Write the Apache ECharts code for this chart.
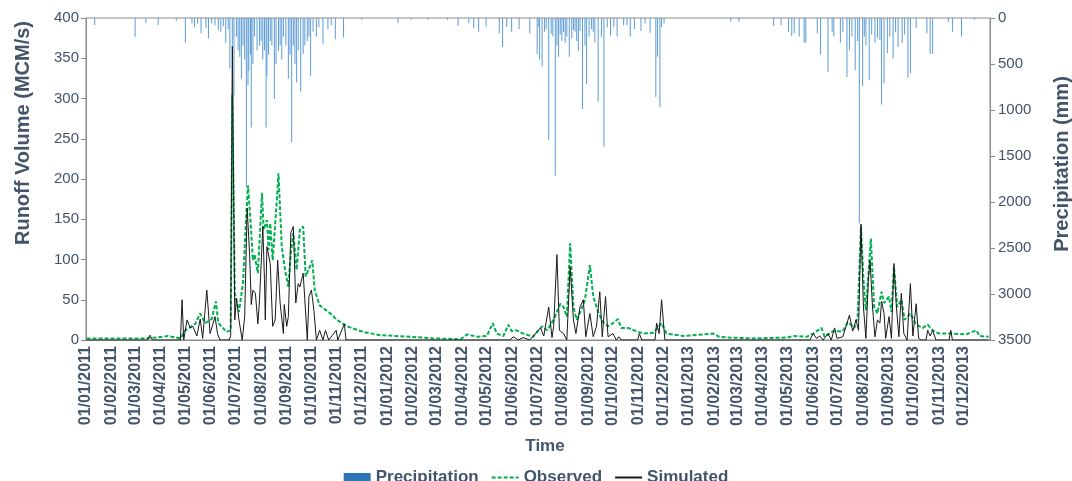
<!DOCTYPE html>
<html>
<head>
<meta charset="utf-8">
<script src="https://cdn.jsdelivr.net/npm/echarts@6/dist/echarts.min.js"></script>
<style>
html,body{margin:0;padding:0;background:#fff;}
#chart{width:1072px;height:481px;}
</style>
</head>
<body>
<div id="chart"></div>
<script>
// ---- Data ----
const xStart = '2011-01-01';
const xEnd = '2014-01-01';
const leftTicks = [0, 50, 100, 150, 200, 250, 300, 350, 400];
const rightTicks = [0, 500, 1000, 1500, 2000, 2500, 3000, 3500];

// Daily precipitation (mm), hanging from the top (inverted right axis)
const precipitation = [
['2011-01-11',76],['2011-03-01',205],['2011-03-14',55],['2011-03-29',76],['2011-04-20',30],
['2011-05-01',270],['2011-05-09',60],['2011-05-12',100],['2011-05-16',60],['2011-05-20',165],['2011-05-26',110],['2011-05-29',220],
['2011-06-02',60],['2011-06-06',80],['2011-06-10',130],['2011-06-13',150],['2011-06-16',90],['2011-06-19',270],['2011-06-22',120],['2011-06-24',550],['2011-06-27',300],['2011-06-29',840],
['2011-07-02',200],['2011-07-04',350],['2011-07-06',420],['2011-07-08',660],['2011-07-10',300],['2011-07-12',450],['2011-07-14',1840],['2011-07-16',730],['2011-07-17',580],['2011-07-19',400],['2011-07-20',1190],['2011-07-22',500],['2011-07-24',200],['2011-07-27',350],['2011-07-30',300],
['2011-08-01',250],['2011-08-03',450],['2011-08-05',350],['2011-08-07',1190],['2011-08-08',630],['2011-08-10',400],['2011-08-12',250],['2011-08-14',300],['2011-08-17',880],['2011-08-19',500],['2011-08-22',360],['2011-08-24',300],['2011-08-26',450],['2011-08-28',200],['2011-08-31',300],
['2011-09-03',660],['2011-09-05',400],['2011-09-07',1350],['2011-09-09',300],['2011-09-11',500],['2011-09-13',700],['2011-09-15',350],['2011-09-18',800],['2011-09-21',390],['2011-09-23',300],['2011-09-26',250],['2011-09-28',200],['2011-09-30',630],
['2011-10-03',150],['2011-10-07',200],['2011-10-10',100],['2011-10-15',280],['2011-10-21',120],['2011-10-25',80],['2011-10-30',230],['2011-11-09',210],['2011-12-01',20],
['2012-01-14',55],['2012-01-30',20],['2012-02-20',15],['2012-03-14',20],['2012-03-27',87],
['2012-04-09',55],['2012-04-15',110],['2012-04-21',150],['2012-04-30',95],['2012-05-16',165],['2012-05-20',315],['2012-05-25',95],['2012-05-31',150],['2012-06-09',120],['2012-06-22',165],
['2012-07-01',390],['2012-07-03',100],['2012-07-04',450],['2012-07-07',530],['2012-07-10',150],['2012-07-12',120],['2012-07-15',1325],['2012-07-18',170],['2012-07-20',200],['2012-07-23',1715],['2012-07-25',300],['2012-07-27',420],['2012-07-29',180],['2012-07-31',250],
['2012-08-02',150],['2012-08-04',265],['2012-08-06',200],['2012-08-09',420],['2012-08-12',220],['2012-08-14',130],['2012-08-16',150],['2012-08-18',250],['2012-08-20',360],['2012-08-22',140],['2012-08-25',990],['2012-08-28',300],['2012-08-30',720],
['2012-09-02',200],['2012-09-05',120],['2012-09-07',150],['2012-09-09',265],['2012-09-13',910],['2012-09-17',200],['2012-09-20',1400],['2012-09-24',100],['2012-09-28',190],
['2012-10-02',100],['2012-10-06',200],['2012-10-14',80],['2012-10-18',80],['2012-10-22',200],['2012-10-27',120],
['2012-11-04',140],['2012-11-09',60],['2012-11-15',160],['2012-11-22',860],['2012-11-24',420],['2012-11-27',970],['2012-11-29',100],['2012-12-02',60],
['2013-02-21',40],['2013-03-03',40],['2013-04-14',87],['2013-04-23',76],
['2013-05-02',150],['2013-05-06',195],['2013-05-09',165],['2013-05-15',200],['2013-05-21',270],['2013-05-23',270],
['2013-06-06',165],['2013-06-10',400],['2013-06-19',585],['2013-06-24',150],['2013-06-26',200],
['2013-07-04',270],['2013-07-07',150],['2013-07-12',640],['2013-07-15',350],['2013-07-18',200],['2013-07-22',565],['2013-07-25',250],['2013-07-27',2230],['2013-07-31',740],
['2013-08-02',200],['2013-08-04',300],['2013-08-08',675],['2013-08-11',180],['2013-08-15',270],['2013-08-18',220],['2013-08-21',240],['2013-08-23',940],['2013-08-26',710],['2013-08-30',380],
['2013-09-02',200],['2013-09-06',440],['2013-09-09',150],['2013-09-12',315],['2013-09-17',270],['2013-09-20',180],['2013-09-24',650],['2013-09-27',600],
['2013-10-04',110],['2013-10-17',165],['2013-10-21',390],['2013-10-24',390],['2013-11-12',40],['2013-11-17',150],['2013-11-28',200],['2013-12-14',20]
];

// Observed runoff (MCM/s)
const observed = [
['2011-01-01',2],['2011-02-15',2],['2011-03-10',2],['2011-03-25',3],['2011-04-10',5],['2011-04-25',2],['2011-05-01',12],['2011-05-13',20],['2011-05-19',33],['2011-05-25',21],['2011-06-02',26],['2011-06-07',48],['2011-06-10',21],['2011-06-20',10],['2011-06-25',12],['2011-06-27',305],['2011-06-30',58],
['2011-07-05',35],['2011-07-10',71],['2011-07-13',137],['2011-07-16',192],['2011-07-19',149],['2011-07-22',99],['2011-07-24',106],['2011-07-28',83],['2011-08-02',183],['2011-08-04',137],['2011-08-08',149],['2011-08-10',112],['2011-08-12',145],['2011-08-15',99],['2011-08-20',174],['2011-08-22',207],['2011-08-26',116],['2011-08-30',87],
['2011-09-03',66],['2011-09-06',108],['2011-09-09',133],['2011-09-13',87],['2011-09-17',137],['2011-09-21',141],['2011-09-24',79],['2011-09-29',91],['2011-10-02',99],['2011-10-05',62],['2011-10-11',43],['2011-10-24',33],['2011-11-01',25],['2011-11-13',17],['2011-12-03',10],['2011-12-23',6],
['2012-01-29',4],['2012-02-26',2],['2012-03-30',1],['2012-04-07',7],['2012-04-19',4],['2012-05-01',5],['2012-05-08',21],['2012-05-13',8],['2012-05-21',5],['2012-05-27',19],['2012-05-31',11],['2012-06-06',12],['2012-06-14',8],['2012-06-26',4],
['2012-07-07',17],['2012-07-13',12],['2012-07-21',25],['2012-07-25',35],['2012-07-29',45],['2012-08-02',41],['2012-08-06',29],['2012-08-10',120],['2012-08-14',41],['2012-08-18',25],['2012-08-24',39],['2012-08-28',50],['2012-09-03',93],['2012-09-07',54],['2012-09-13',35],['2012-09-19',22],['2012-09-25',17],
['2012-10-01',21],['2012-10-07',26],['2012-10-11',15],['2012-10-19',15],['2012-10-29',11],['2012-11-07',8],['2012-11-19',9],['2012-11-29',21],['2012-12-05',8],['2012-12-25',5],
['2013-01-31',8],['2013-02-07',4],['2013-02-19',3],['2013-03-20',2],['2013-04-30',3],['2013-05-08',5],['2013-05-24',4],['2013-06-01',8],['2013-06-11',15],['2013-06-15',4],['2013-06-25',11],
['2013-07-07',11],['2013-07-13',22],['2013-07-17',19],['2013-07-21',15],['2013-07-25',29],['2013-07-29',141],['2013-08-01',75],['2013-08-04',37],['2013-08-10',126],['2013-08-14',41],['2013-08-18',33],['2013-08-23',60],['2013-08-26',46],
['2013-09-01',54],['2013-09-04',35],['2013-09-07',91],['2013-09-11',41],['2013-09-16',50],['2013-09-20',25],['2013-09-27',33],['2013-10-04',19],['2013-10-12',15],['2013-10-18',19],['2013-10-24',12],['2013-11-01',8],['2013-11-17',8],['2013-12-04',7],['2013-12-16',12],['2013-12-20',5],['2013-12-31',4]
];

// Simulated runoff (MCM/s)
const simulated = [
['2011-01-01',0],['2011-03-16',0],['2011-03-19',6],['2011-03-22',0],['2011-04-06',0],['2011-04-08',2],['2011-04-10',0],['2011-04-25',0],['2011-04-27',50],['2011-04-29',0],['2011-05-03',25],['2011-05-07',15],['2011-05-10',17],['2011-05-15',5],['2011-05-19',26],['2011-05-22',2],['2011-05-27',62],['2011-05-31',8],['2011-06-06',29],['2011-06-09',8],['2011-06-12',0],['2011-06-23',0],['2011-06-25',5],['2011-06-27',365],['2011-06-30',25],
['2011-07-02',52],['2011-07-05',25],['2011-07-09',0],['2011-07-12',29],['2011-07-15',164],['2011-07-18',106],['2011-07-20',44],['2011-07-22',62],['2011-07-25',58],['2011-07-28',20],['2011-07-30',50],['2011-08-03',141],['2011-08-05',75],['2011-08-06',25],['2011-08-08',116],['2011-08-12',95],['2011-08-15',17],['2011-08-18',25],['2011-08-21',99],['2011-08-24',46],['2011-08-28',8],['2011-08-29',44],
['2011-09-01',17],['2011-09-03',29],['2011-09-06',133],['2011-09-09',141],['2011-09-12',46],['2011-09-15',70],['2011-09-17',66],['2011-09-21',83],['2011-09-23',50],['2011-09-26',0],['2011-09-28',54],['2011-10-01',62],['2011-10-04',37],['2011-10-07',0],['2011-10-11',12],['2011-10-15',0],['2011-10-18',12],['2011-10-22',0],['2011-10-31',12],['2011-11-02',0],['2011-11-10',20],['2011-11-12',0],['2011-12-01',0],['2011-12-03',2],['2011-12-05',0],
['2012-01-04',0],['2012-01-06',2],['2012-01-08',0],['2012-03-11',0],['2012-03-13',1],['2012-03-15',0],['2012-05-19',0],['2012-05-21',1],['2012-05-29',0],['2012-06-02',4],['2012-06-08',0],['2012-06-14',3],['2012-06-22',0],
['2012-07-05',15],['2012-07-09',5],['2012-07-15',41],['2012-07-19',3],['2012-07-21',17],['2012-07-25',106],['2012-07-28',12],['2012-08-02',8],['2012-08-06',0],['2012-08-10',91],['2012-08-14',25],['2012-08-17',8],['2012-08-22',41],['2012-08-26',50],['2012-08-29',4],
['2012-09-03',33],['2012-09-07',4],['2012-09-11',17],['2012-09-15',60],['2012-09-18',4],['2012-09-22',54],['2012-09-25',4],['2012-10-01',8],['2012-10-05',0],['2012-10-08',4],['2012-10-11',0],['2012-10-31',0],['2012-11-02',8],['2012-11-05',0],['2012-11-21',0],['2012-11-23',21],['2012-11-26',8],['2012-11-29',50],['2012-12-03',0],
['2013-05-06',0],['2013-05-08',2],['2013-05-10',0],['2013-05-28',0],['2013-06-01',8],['2013-06-05',2],['2013-06-09',5],['2013-06-13',0],['2013-06-19',8],['2013-06-23',0],['2013-06-27',15],['2013-06-30',2],
['2013-07-07',4],['2013-07-11',17],['2013-07-15',31],['2013-07-19',11],['2013-07-23',25],['2013-07-26',12],['2013-07-29',144],['2013-08-01',41],['2013-08-04',2],['2013-08-07',75],['2013-08-09',99],['2013-08-12',41],['2013-08-15',4],['2013-08-18',25],['2013-08-21',21],['2013-08-23',48],['2013-08-26',33],['2013-08-28',2],
['2013-09-01',29],['2013-09-04',2],['2013-09-07',95],['2013-09-10',41],['2013-09-13',4],['2013-09-16',58],['2013-09-19',8],['2013-09-23',0],['2013-09-27',70],['2013-09-30',5],['2013-10-04',45],['2013-10-07',2],['2013-10-10',0],['2013-10-16',0],['2013-10-18',12],['2013-10-21',5],['2013-10-24',12],['2013-10-28',0],['2013-11-13',0],['2013-11-15',12],['2013-11-17',0],['2013-12-31',0]
];

// ---- Chart ----
const FONT = '"Liberation Sans", Arial, sans-serif';
const TXT = '#44546A';
const AX = '#8C8C8C';
const pad = n => (n < 10 ? '0' : '') + n;
const endTime = echarts.time.parse(xEnd).getTime();

const chart = echarts.init(document.getElementById('chart'), null, {renderer: 'canvas'});
chart.setOption({
  animation: false,
  backgroundColor: '#ffffff',
  textStyle: {fontFamily: FONT},
  grid: {left: 86, right: 82, top: 18, bottom: 141, outerBoundsMode: 'none', containLabel: false,
         show: true, borderColor: AX, borderWidth: 1, backgroundColor: 'transparent'},
  legend: {
    top: 464, left: 'center', itemWidth: 27, itemHeight: 9, itemGap: 12,
    textStyle: {fontFamily: FONT, fontSize: 17, fontWeight: 'bold', color: TXT},
    data: [
      {name: 'Precipitation', icon: 'rect', itemStyle: {color: '#2E75B6'}},
      {name: 'Observed', itemStyle: {opacity: 0}},
      {name: 'Simulated', itemStyle: {opacity: 0}}
    ]
  },
  xAxis: {
    type: 'time', min: xStart, max: xEnd,
    splitNumber: 36, minInterval: 28 * 864e5, maxInterval: 31 * 864e5,
    name: 'Time', nameLocation: 'middle', nameGap: 98,
    nameTextStyle: {fontFamily: FONT, fontSize: 17, fontWeight: 'bold', color: TXT, padding: [0, 0, 0, 14]},
    axisLine: {show: true, lineStyle: {color: AX, width: 1}},
    axisTick: {show: false},
    splitLine: {show: false},
    axisLabel: {
      rotate: 90, fontFamily: FONT, fontSize: 16, fontWeight: 'bold', color: TXT, margin: 6,
      hideOverlap: false, showMinLabel: true, showMaxLabel: true,
      formatter: function (v) {
        if (v >= endTime - 2 * 864e5) return '';
        // each tick sits on the first day of a month
        const d = new Date(v + 15 * 864e5);
        return '01/' + pad(d.getMonth() + 1) + '/' + d.getFullYear();
      }
    }
  },
  yAxis: [
    {
      type: 'value', position: 'left', min: leftTicks[0], max: leftTicks[leftTicks.length - 1], interval: 50,
      name: 'Runoff Volume (MCM/s)', nameLocation: 'middle', nameGap: 53, nameRotate: 90,
      nameTextStyle: {fontFamily: FONT, fontSize: 20, fontWeight: 'bold', color: TXT, padding: [0, 0, 0, 92]},
      axisLine: {show: true, lineStyle: {color: AX}},
      axisTick: {show: true, length: 5, lineStyle: {color: AX}},
      splitLine: {show: false},
      axisLabel: {fontFamily: FONT, fontSize: 15, color: TXT, margin: 7}
    },
    {
      type: 'value', position: 'right', inverse: true, min: rightTicks[0], max: rightTicks[rightTicks.length - 1], interval: 500,
      name: 'Precipitation (mm)', nameLocation: 'middle', nameGap: 62, nameRotate: 90,
      nameTextStyle: {fontFamily: FONT, fontSize: 20, fontWeight: 'bold', color: TXT, padding: [0, 0, 0, 30]},
      axisLine: {show: true, lineStyle: {color: AX}},
      axisTick: {show: true, length: 5, lineStyle: {color: AX}},
      splitLine: {show: false},
      axisLabel: {fontFamily: FONT, fontSize: 15, color: TXT, margin: 8, formatter: v => String(v)}
    }
  ],
  series: [
    {
      name: 'Precipitation', type: 'bar', yAxisIndex: 1, barWidth: 1,
      itemStyle: {color: '#5B9BD5'},
      data: precipitation, z: 1
    },
    {
      name: 'Observed', type: 'line', yAxisIndex: 0, symbol: 'none',
      lineStyle: {color: '#00B050', width: 2, type: [4, 2]},
      itemStyle: {color: '#00B050'},
      data: observed, z: 2
    },
    {
      name: 'Simulated', type: 'line', yAxisIndex: 0, symbol: 'none',
      lineStyle: {color: '#1a1a1a', width: 1},
      itemStyle: {color: '#1a1a1a'},
      data: simulated, z: 3
    }
  ]
});
</script>
</body>
</html>
